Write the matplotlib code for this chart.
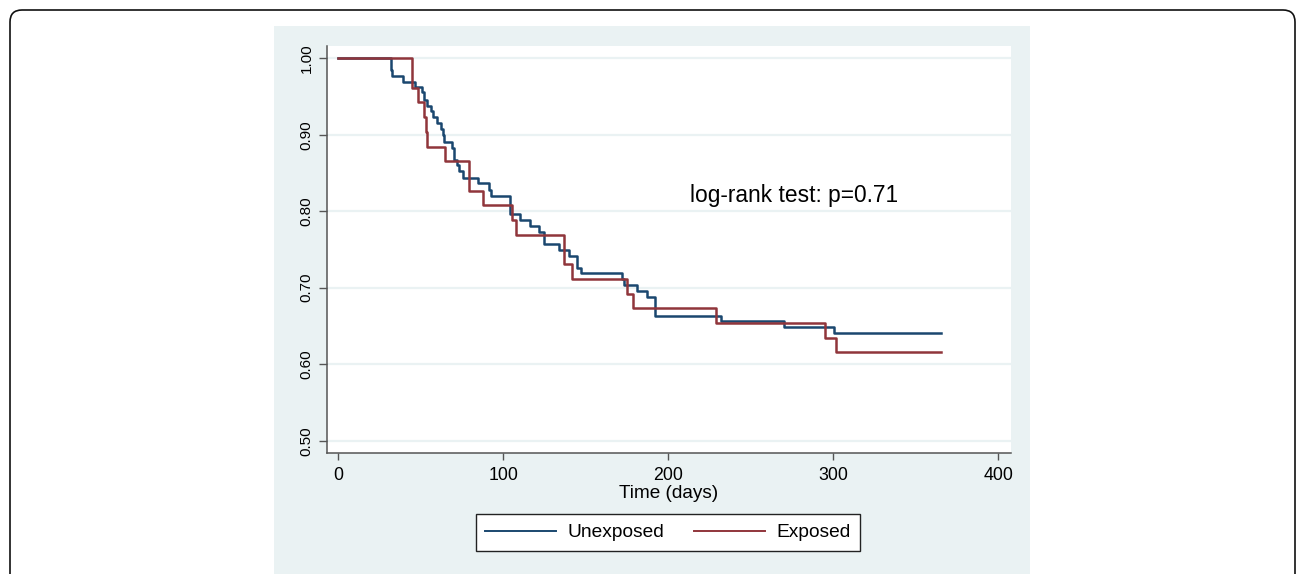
import matplotlib
matplotlib.use('Agg')
import matplotlib.pyplot as plt
from matplotlib.patches import Rectangle, FancyBboxPatch
from matplotlib.transforms import IdentityTransform

plt.rcParams['font.family'] = ['Liberation Sans', 'DejaVu Sans']

# Kaplan-Meier steps (day, survival after the step)
unexp_days = [0, 31.7, 32.7, 39, 46.5, 50.5, 52, 53.6, 56, 57.6, 59.6, 62, 63.3, 64,
              69, 70, 72, 73, 75.6, 84.8, 91.5, 92.4, 104, 110, 116, 121.8, 124.8,
              134, 139.8, 144.8, 146.9, 172, 173.2, 180.8, 186.9, 191.9, 231.7,
              270.3, 300.6, 365]
unexp_surv = [1.0, 0.985, 0.977, 0.969, 0.963, 0.956, 0.945, 0.938, 0.931, 0.923,
              0.915, 0.908, 0.899, 0.891, 0.882, 0.867, 0.860, 0.852, 0.844, 0.837,
              0.828, 0.820, 0.797, 0.789, 0.781, 0.773, 0.757, 0.749, 0.742, 0.726,
              0.719, 0.712, 0.704, 0.696, 0.688, 0.663, 0.656, 0.648, 0.641, 0.641]

exp_days = [0, 44.8, 48.5, 52.1, 53.2, 54.0, 64.7, 79.0, 87.5, 105.4, 107.8, 137.0,
            141.4, 174.8, 178.8, 228.9, 295, 301.6, 365]
exp_surv = [1.0, 0.9615, 0.9423, 0.9231, 0.9038, 0.8846, 0.8654, 0.8269, 0.8077,
            0.7885, 0.7692, 0.7308, 0.7115, 0.6923, 0.6731, 0.6538, 0.6346, 0.6154,
            0.6154]

y_ticks = [0.5, 0.6, 0.7, 0.8, 0.9, 1.0]
x_ticks = [0, 100, 200, 300, 400]

W, H = 1296, 574
fig = plt.figure(figsize=(W / 100, H / 100), dpi=100)
fig.patch.set_facecolor('white')

# light panel behind the graph
fig.patches.append(Rectangle((274 / W, 0), (1030 - 274) / W, (H - 26) / H,
                             transform=fig.transFigure, facecolor='#eaf2f3',
                             edgecolor='none', zorder=-2))
# rounded outer frame
fig.patches.append(FancyBboxPatch((10, -20), 1285, 574 - 10 + 20,
                                  boxstyle='round,pad=0,rounding_size=12',
                                  transform=IdentityTransform(), facecolor='none',
                                  edgecolor='#111111', lw=1.2, zorder=-1))

ax = fig.add_axes([326.7 / W, 1 - 452.7 / H, (1010.7 - 326.7) / W, (452.7 - 46) / H])
ax.set_zorder(1)
ax.set_facecolor('white')

ax.step(unexp_days, unexp_surv, where='post', color='#1a476f', lw=1.8, label='Unexposed')
ax.step(exp_days, exp_surv, where='post', color='#90353b', lw=1.8, label='Exposed')

ax.set_xlim(-7.0, 407.5)
ax.set_ylim(0.4843, 1.016)
ax.set_xticks(x_ticks)
ax.set_yticks(y_ticks)
ax.set_yticklabels(['%.2f' % v for v in y_ticks], rotation=90, va='center')
ax.yaxis.grid(True, color='#eaf2f3', lw=1.6)
ax.set_axisbelow(True)

for s in ['top', 'right']:
    ax.spines[s].set_visible(False)
for s in ['left', 'bottom']:
    ax.spines[s].set_color('#555555')
    ax.spines[s].set_linewidth(1.1)

ax.tick_params(axis='x', length=5, width=1, color='#555555', pad=5, labelsize=12.8)
ax.tick_params(axis='y', length=5.5, width=1, color='#555555', pad=4, labelsize=11)
ax.set_xlabel('Time (days)', fontsize=13.7, labelpad=1)

ax.text(213, 0.821, 'log-rank test: p=0.71', fontsize=16.4, ha='left', va='center')

leg = ax.legend(loc='center', bbox_to_anchor=(668 / W, 1 - 532.5 / H),
                bbox_transform=fig.transFigure, ncol=2, fontsize=13.8,
                handlelength=3.7, handletextpad=0.6, columnspacing=1.55,
                borderpad=0.5, fancybox=False, frameon=True, framealpha=1)
leg.get_frame().set_facecolor('white')
leg.get_frame().set_edgecolor('#222222')
leg.get_frame().set_linewidth(1.0)
for line in leg.get_lines():
    line.set_linewidth(1.4)

fig.savefig('out.png', dpi=100)
